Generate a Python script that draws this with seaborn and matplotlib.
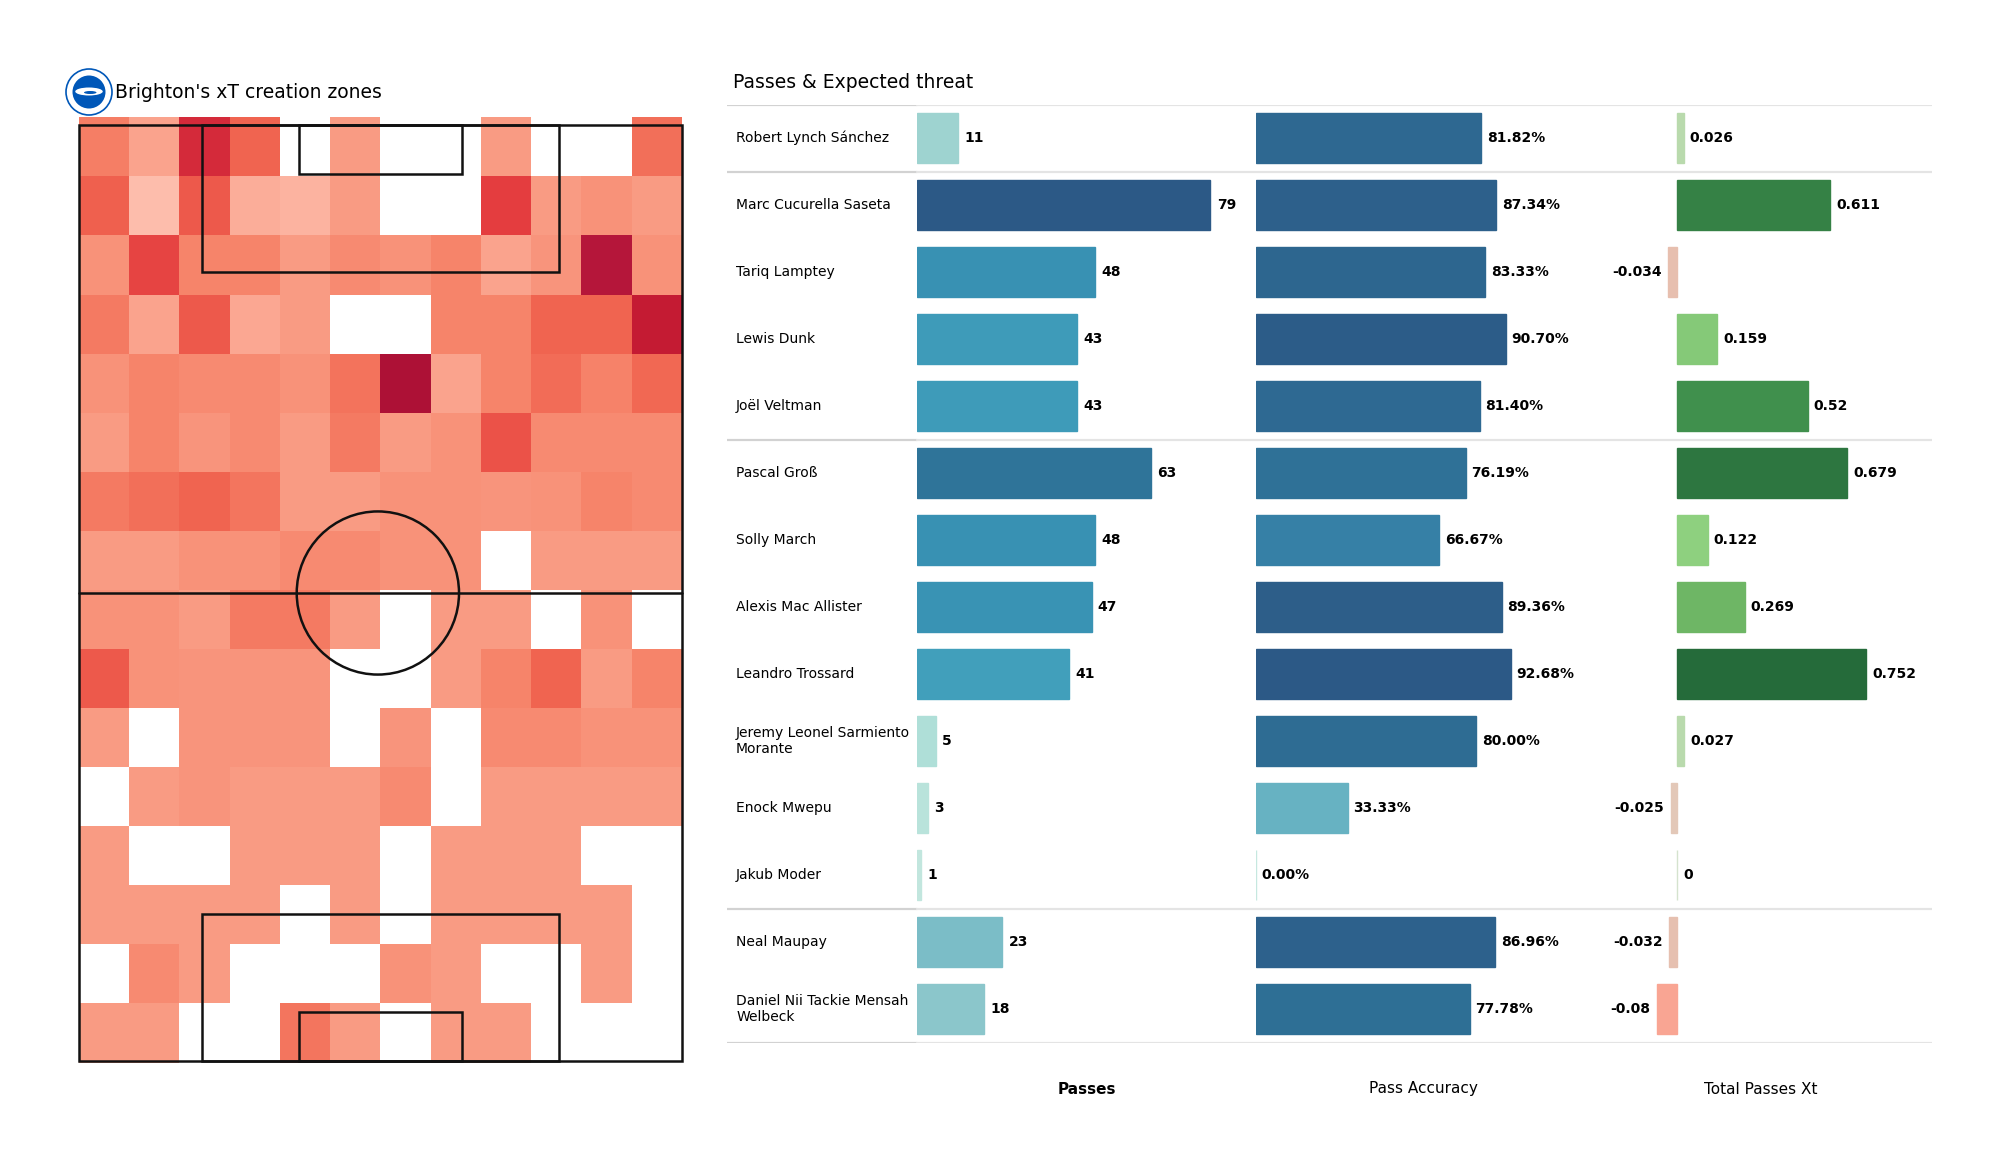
import numpy as np
import pandas as pd
import seaborn as sns
import matplotlib
matplotlib.use("Agg")
from matplotlib import pyplot as plt
from matplotlib import colors as mcolors
from matplotlib.patches import Rectangle, Circle, Ellipse

# ---------------- data ----------------
players = ["Robert Lynch Sánchez", "Marc Cucurella Saseta", "Tariq Lamptey",
           "Lewis Dunk", "Joël Veltman", "Pascal Groß", "Solly March",
           "Alexis Mac Allister", "Leandro Trossard",
           "Jeremy Leonel Sarmiento\nMorante", "Enock Mwepu", "Jakub Moder",
           "Neal Maupay", "Daniel Nii Tackie Mensah\nWelbeck"]
roles = ["GK", "DF", "DF", "DF", "DF", "MF", "MF", "MF", "MF", "MF", "MF", "MF",
         "FW", "FW"]
passes = [11, 79, 48, 43, 43, 63, 48, 47, 41, 5, 3, 1, 23, 18]
pass_accuracy = [81.82, 87.34, 83.33, 90.70, 81.40, 76.19, 66.67, 89.36, 92.68,
                 80.00, 33.33, 0.00, 86.96, 77.78]
passes_xt = [0.026, 0.611, -0.034, 0.159, 0.52, 0.679, 0.122, 0.269, 0.752,
             0.027, -0.025, 0, -0.032, -0.08]

# xT zones, 16 rows (top of pitch first) x 12 columns, nan = no value
nan = np.nan
zone_xt = [
    [0.30, 0.13, 0.70, 0.42, nan, 0.16, nan, nan, 0.16, nan, nan, 0.37],
    [0.44, 0.05, 0.47, 0.10, 0.08, 0.16, nan, nan, 0.60, 0.16, 0.20, 0.16],
    [0.20, 0.57, 0.27, 0.27, 0.16, 0.24, 0.20, 0.27, 0.13, 0.19, 0.88, 0.20],
    [0.32, 0.13, 0.47, 0.12, 0.16, nan, nan, 0.27, 0.27, 0.42, 0.42, 0.80],
    [0.20, 0.27, 0.24, 0.24, 0.20, 0.35, 0.95, 0.13, 0.27, 0.38, 0.28, 0.40],
    [0.16, 0.27, 0.19, 0.24, 0.16, 0.32, 0.16, 0.20, 0.50, 0.24, 0.24, 0.24],
    [0.32, 0.37, 0.42, 0.34, 0.16, 0.16, 0.20, 0.20, 0.19, 0.20, 0.27, 0.24],
    [0.16, 0.16, 0.20, 0.20, 0.24, 0.24, 0.20, 0.20, nan, 0.16, 0.16, 0.16],
    [0.20, 0.20, 0.16, 0.32, 0.32, 0.16, nan, 0.16, 0.16, nan, 0.20, nan],
    [0.47, 0.20, 0.19, 0.19, 0.19, nan, nan, 0.16, 0.27, 0.42, 0.16, 0.27],
    [0.16, nan, 0.19, 0.19, 0.19, nan, 0.19, nan, 0.24, 0.24, 0.20, 0.20],
    [nan, 0.16, 0.19, 0.16, 0.16, 0.16, 0.24, nan, 0.16, 0.16, 0.16, 0.16],
    [0.16, nan, nan, 0.16, 0.16, 0.16, nan, 0.16, 0.16, 0.16, nan, nan],
    [0.16, 0.16, 0.16, 0.16, nan, 0.16, nan, 0.16, 0.16, 0.16, 0.16, nan],
    [nan, 0.24, 0.16, nan, nan, nan, 0.20, 0.16, nan, nan, 0.16, nan],
    [0.16, 0.16, nan, nan, 0.34, 0.16, nan, 0.16, 0.16, nan, nan, nan],
]

# ---------------- colour maps ----------------
zone_cmap = mcolors.LinearSegmentedColormap.from_list("zones", [
    (0.0, "#fdcbbd"), (0.05, "#fdbcab"), (0.16, "#f99a82"), (0.27, "#f6846a"),
    (0.42, "#f06450"), (0.6, "#e43d3f"), (0.7, "#d42a3a"), (0.8, "#c41b33"),
    (0.88, "#b5163a"), (1.0, "#a80e33")])
blue_cmap = mcolors.LinearSegmentedColormap.from_list("blues", [
    (0.0, "#c6e8e0"), (0.06, "#b0dfd8"), (0.14, "#9dd3d0"), (0.23, "#8ac6cb"),
    (0.29, "#7bbdc7"), (0.36, "#67b2c2"), (0.52, "#409fbb"), (0.61, "#3891b3"),
    (0.72, "#3680a6"), (0.8, "#2f7499"), (1.0, "#2c5986")])
xt_cmap = mcolors.LinearSegmentedColormap.from_list("xt", [
    (0.0, "#f9a593"), (0.3, "#e6c0b0"), (0.5, "#d9e4d2"), (0.52, "#b5d9a8"),
    (0.58, "#8ed07f"), (0.68, "#6db665"), (0.85, "#3f8f4d"), (1.0, "#256b3a")])

sns.set_theme(style="white")
plt.rcParams["font.family"] = ["DejaVu Sans"]
plt.rcParams["text.color"] = "black"

W, H = 2000, 1175
fig = plt.figure(figsize=(20, 11.75), dpi=100)
fig.patch.set_facecolor("white")

# ---------------- heatmap + pitch ----------------
heat_ax = fig.add_axes([79 / W, 1 - 1062.5 / H, 603 / W, (1062.5 - 117.3) / H])
sns.heatmap(pd.DataFrame(zone_xt), ax=heat_ax, cmap=zone_cmap, vmin=0, vmax=1,
            cbar=False, xticklabels=False, yticklabels=False)
heat_ax.set_facecolor("white")

pitch_ax = fig.add_axes([70.13 / W, 1 - 1069.9 / H, 620.8 / W, 953.8 / H])
pitch_ax.set_xlim(-1, 69)
pitch_ax.set_ylim(-1, 106)
pitch_ax.axis("off")
pitch_ax.patch.set_alpha(0)
lc = "#111111"
lw = 1.8
pitch_ax.add_patch(Rectangle((0, 0), 68, 105, fill=False, ec=lc, lw=lw))
pitch_ax.plot([0, 68], [52.5, 52.5], color=lc, lw=lw)
pitch_ax.add_patch(Circle((33.7, 52.5), 9.15, fill=False, ec=lc, lw=lw))
for y0 in (0, 105 - 16.5):
    pitch_ax.add_patch(Rectangle((13.84, y0), 40.32, 16.5, fill=False, ec=lc, lw=lw))
for y0 in (0, 105 - 5.5):
    pitch_ax.add_patch(Rectangle((24.84, y0), 18.32, 5.5, fill=False, ec=lc, lw=lw))

# club badge
logo_ax = fig.add_axes([(89 - 25) / W, 1 - (92 + 25) / H, 50 / W, 50 / H])
logo_ax.set_xlim(-1, 1)
logo_ax.set_ylim(-1, 1)
logo_ax.axis("off")
logo_ax.add_patch(Circle((0, 0), 0.92, fc="white", ec="#0057b8", lw=1.2))
logo_ax.add_patch(Circle((0, 0), 0.66, fc="#0057b8", ec="none"))
logo_ax.add_patch(Ellipse((0, 0.02), 1.1, 0.32, fc="white", ec="none"))
logo_ax.add_patch(Ellipse((0.05, -0.02), 0.5, 0.12, fc="#0057b8", ec="none"))

fig.text(115 / W, 1 - 93 / H, "Brighton's xT creation zones", fontsize=13.5,
         va="center", ha="left")

# ---------------- table ----------------
n = len(players)
tb, th = 1 - 1042.5 / H, 938 / H
fig.text(733 / W, 1 - 83 / H, "Passes & Expected threat", fontsize=13.5,
         va="center", ha="left")

name_ax = fig.add_axes([727 / W, tb, 1205 / W, th])
name_ax.set_xlim(0, 1)
name_ax.set_ylim(n - 0.5, -0.5)
name_ax.axis("off")
for i, p in enumerate(players):
    name_ax.text(0.0075, i, p, va="center", ha="left", fontsize=10, color="black")
breaks = [-0.5] + [i - 0.5 for i in range(1, n) if roles[i] != roles[i - 1]] + [n - 0.5]
for b in breaks:
    name_ax.axhline(b, xmin=0, xmax=0.158, color="#d2d2d2", lw=1.6)
    name_ax.axhline(b, xmin=0.158, xmax=1, color="#e4e4e4", lw=1.6)


def bar_column(rect, values, colors, xlim, fmt, pad):
    ax = fig.add_axes(rect)
    sns.barplot(x=values, y=players, hue=players, palette=colors, legend=False,
                orient="h", width=0.76, saturation=1, ax=ax)
    for patch in ax.patches:
        patch.set_edgecolor(patch.get_facecolor())
        patch.set_linewidth(1.0)
    for i, v in enumerate(values):
        ax.annotate(fmt(v), (v, i), xytext=(pad if v >= 0 else -pad, 0),
                    textcoords="offset points", ha="left" if v >= 0 else "right",
                    va="center", fontsize=10, fontweight="bold", color="black")
    ax.set_xlim(*xlim)
    ax.set_ylim(n - 0.5, -0.5)
    ax.axis("off")
    ax.patch.set_alpha(0)
    return ax


pnorm = mcolors.Normalize(0, max(passes))
bar_column([917 / W, tb, 340 / W, th], passes,
           [blue_cmap(pnorm(v)) for v in passes], (0, 340 / 3.715),
           lambda v: f"{v}", 4.5)

anorm = mcolors.Normalize(0, max(pass_accuracy))
bar_column([1256 / W, tb, 334 / W, th], pass_accuracy,
           [blue_cmap(anorm(v)) for v in pass_accuracy], (0, 334 / 2.752),
           lambda v: f"{v:.2f}%", 4)

xnorm = mcolors.TwoSlopeNorm(vcenter=0, vmin=min(passes_xt), vmax=max(passes_xt))
bar_column([1590 / W, tb, 342 / W, th], passes_xt,
           [xt_cmap(xnorm(v)) for v in passes_xt], (-87 / 251, 255 / 251),
           lambda v: f"{round(v, 3):g}", 4.5)

hy = 1 - 1089 / H
fig.text(1087 / W, hy, "Passes", fontsize=11, fontweight="bold", ha="center", va="center")
fig.text(1423 / W, hy, "Pass Accuracy", fontsize=11, ha="center", va="center")
fig.text(1761 / W, hy, "Total Passes Xt", fontsize=11, ha="center", va="center")

fig.savefig("out.png", dpi=100, facecolor="white")
